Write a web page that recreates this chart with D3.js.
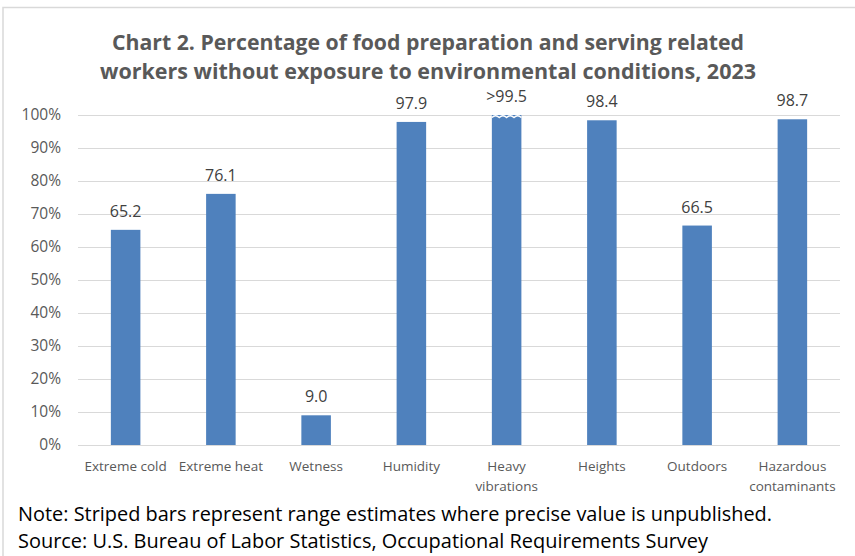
<!DOCTYPE html>
<html lang="en">
<head>
<meta charset="UTF-8">
<title>Chart 2</title>
<script src="https://d3js.org/d3.v7.min.js"></script>
<style>
  body { margin: 0; background: #fff; }
  svg { display: block; font-family: "Open Sans", "DejaVu Sans", sans-serif; }
</style>
</head>
<body>
<div id="chart"></div>
<script>
// data
var categories = ['Extreme cold', 'Extreme heat', 'Wetness', 'Humidity', 'Heavy vibrations', 'Heights', 'Outdoors', 'Hazardous contaminants'];
var values = [65.2, 76.1, 9.0, 97.9, 99.5, 98.4, 66.5, 98.7];
var valueLabels = ['65.2', '76.1', '9.0', '97.9', '>99.5', '98.4', '66.5', '98.7'];
var isRange = [false, false, false, false, true, false, false, false];
var rangeTop = 100;
var yTicks = [0, 10, 20, 30, 40, 50, 60, 70, 80, 90, 100];

var w = 855, h = 556;
var m = {top: 115, left: 78, bottom: 111, right: 15};

var svg = d3.select('#chart').append('svg')
    .attr('width', w)
    .attr('height', h);

// chart border (top + left only visible)
svg.append('path')
    .attr('d', 'M3,556 L3,7.5 L855,7.5')
    .attr('fill', 'none')
    .attr('stroke', '#d9d9d9')
    .attr('stroke-width', 1.5);

var x = d3.scaleBand()
    .domain(categories)
    .range([m.left, w - m.right])
    .paddingInner(0.69)
    .paddingOuter(0.345);

var y = d3.scaleLinear()
    .domain([0, 100])
    .range([h - m.bottom, m.top]);

// gridlines
svg.append('g')
    .selectAll('line')
    .data(yTicks)
    .enter().append('line')
    .attr('x1', m.left)
    .attr('x2', w - m.right)
    .attr('y1', function(d) { return Math.round(y(d)) + 0.5; })
    .attr('y2', function(d) { return Math.round(y(d)) + 0.5; })
    .attr('stroke', '#d9d9d9')
    .attr('stroke-width', 1);

// y axis labels
var yAxis = d3.axisLeft(y)
    .tickValues(yTicks)
    .tickSize(0)
    .tickPadding(0)
    .tickFormat(function(d) { return d + '%'; });

svg.append('g')
    .attr('transform', 'translate(61,0)')
    .call(yAxis)
    .call(function(g) { g.select('.domain').remove(); })
    .selectAll('text')
    .attr('font-size', '15.5px')
    .attr('font-family', '"Open Sans", sans-serif')
    .attr('fill', '#595959');

// bars
var bars = svg.append('g');
bars.selectAll('rect')
    .data(categories)
    .enter().append('rect')
    .attr('x', function(d) { return x(d); })
    .attr('width', x.bandwidth())
    .attr('y', function(d, i) { return y(isRange[i] ? rangeTop : values[i]); })
    .attr('height', function(d, i) { return y(0) - y(isRange[i] ? rangeTop : values[i]); })
    .attr('fill', '#4f81bd');

// wavy white edge on top of range bars
categories.forEach(function(c, i) {
    if (!isRange[i]) return;
    var x0 = x(c), bw = x.bandwidth(), yt = y(rangeTop);
    var n = 4, step = bw / n;
    var p = 'M' + x0 + ',' + (yt + 2.5);
    for (var k = 0; k < n; k++) {
        p += ' Q' + (x0 + step * k + step / 2) + ',' + (yt - 1) + ' ' + (x0 + step * (k + 1)) + ',' + (yt + 2.5);
    }
    svg.append('path')
        .attr('d', p)
        .attr('fill', 'none')
        .attr('stroke', '#ffffff')
        .attr('stroke-width', 1.5);
});

// value labels
svg.append('g')
    .selectAll('text')
    .data(categories)
    .enter().append('text')
    .attr('x', function(d) { return x(d) + x.bandwidth() / 2; })
    .attr('y', function(d, i) { return y(isRange[i] ? rangeTop : values[i]) - 13; })
    .attr('text-anchor', 'middle')
    .attr('font-size', '16px')
    .attr('fill', '#404040')
    .text(function(d, i) { return valueLabels[i]; });

// x labels (wrapped)
var xl = svg.append('g')
    .selectAll('text')
    .data(categories)
    .enter().append('text')
    .attr('x', function(d) { return x(d) + x.bandwidth() / 2; })
    .attr('y', 471)
    .attr('text-anchor', 'middle')
    .attr('font-size', '13.5px')
    .attr('fill', '#595959');

xl.each(function(d) {
    var lines = (d === 'Heavy vibrations' || d === 'Hazardous contaminants') ? d.split(' ') : [d];
    var t = d3.select(this);
    lines.forEach(function(l, i) {
        t.append('tspan')
            .attr('x', t.attr('x'))
            .attr('dy', i === 0 ? 0 : 20)
            .text(l);
    });
});

// title
var title = ['Chart 2. Percentage of food preparation and serving related',
             'workers without exposure to environmental conditions, 2023'];
svg.append('g')
    .selectAll('text')
    .data(title)
    .enter().append('text')
    .attr('x', 428)
    .attr('y', function(d, i) { return 50 + i * 29; })
    .attr('text-anchor', 'middle')
    .attr('font-size', '21.5px')
    .attr('font-weight', 'bold')
    .attr('fill', '#595959')
    .attr('textLength', function(d, i) { return i === 0 ? 632 : 656; })
    .attr('lengthAdjust', 'spacingAndGlyphs')
    .text(function(d) { return d; });

// notes
var notes = ['Note: Striped bars represent range estimates where precise value is unpublished.',
             'Source: U.S. Bureau of Labor Statistics, Occupational Requirements Survey'];
svg.append('g')
    .selectAll('text')
    .data(notes)
    .enter().append('text')
    .attr('x', 18)
    .attr('y', function(d, i) { return 521 + i * 27; })
    .attr('font-size', '20px')
    .attr('fill', '#000000')
    .attr('textLength', function(d, i) { return i === 0 ? 754 : 690; })
    .attr('lengthAdjust', 'spacingAndGlyphs')
    .text(function(d) { return d; });
</script>
</body>
</html>
